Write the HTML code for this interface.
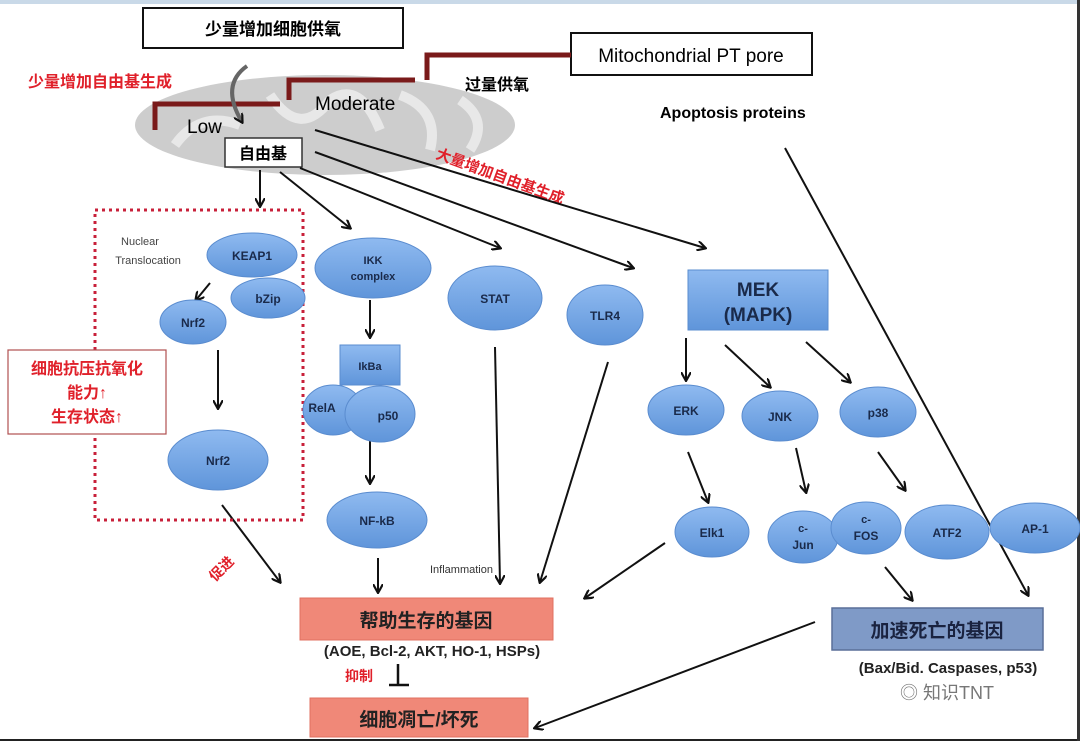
<!DOCTYPE html>
<html><head><meta charset="utf-8"><style>
html,body{margin:0;padding:0;background:#fff;}
svg{display:block;font-family:"Liberation Sans","Noto Sans CJK SC",sans-serif;}
</style></head><body>
<svg width="1080" height="741" viewBox="0 0 1080 741" xmlns="http://www.w3.org/2000/svg">
<defs>
<marker id="ah" markerWidth="10" markerHeight="10" refX="8" refY="5" orient="auto" markerUnits="userSpaceOnUse"><path d="M0,0 L9,5 L0,10" fill="none" stroke="#111" stroke-width="2.2"/></marker>
<linearGradient id="bl" x1="0" y1="0" x2="0" y2="1"><stop offset="0" stop-color="#8fbaf0"/><stop offset="1" stop-color="#5f95da"/></linearGradient>
</defs>
<rect x="0" y="0" width="1080" height="741" fill="#fff"/>
<rect x="0" y="0" width="1080" height="4" fill="#c9d9e8"/>
<rect x="0" y="739" width="1080" height="2" fill="#222"/>
<rect x="1077" y="0" width="3" height="741" fill="#333"/>
<!-- mitochondrion -->
<ellipse cx="325" cy="125" rx="190" ry="50" fill="#cdcdcd"/>
<path d="M175,145 Q200,110 240,125 M270,95 Q300,140 330,100 Q360,80 380,130 M400,95 Q440,110 430,150 M460,100 Q490,120 470,150" fill="none" stroke="#e8e8e8" stroke-width="10"/>
<!-- top boxes -->
<rect x="143" y="8" width="260" height="40" fill="#fff" stroke="#111" stroke-width="2"/>
<text x="273" y="35" text-anchor="middle" font-size="17" font-weight="bold">少量增加细胞供氧</text>
<rect x="571" y="33" width="241" height="42" fill="#fff" stroke="#111" stroke-width="2"/>
<text x="691" y="62" text-anchor="middle" font-size="19">Mitochondrial PT pore</text>
<text x="28" y="87" font-size="16" font-weight="bold" fill="#e0202a">少量增加自由基生成</text>
<path d="M155,130 V104 H280 M289,100 V80 H415 M427,80 V55 H571" fill="none" stroke="#7a1a1a" stroke-width="5"/>
<path d="M247,66 Q220,85 242,122" fill="none" stroke="#666" stroke-width="4" marker-end="url(#ah)"/>
<text x="187" y="133" font-size="19">Low</text>
<text x="315" y="110" font-size="19">Moderate</text>
<text x="465" y="90" font-size="16" font-weight="bold">过量供氧</text>
<rect x="225" y="138" width="77" height="29" fill="#fff" stroke="#333" stroke-width="1.5"/>
<text x="263" y="159" text-anchor="middle" font-size="16" font-weight="bold">自由基</text>
<text x="660" y="118" font-size="16" font-weight="bold">Apoptosis proteins</text>
<text x="435" y="158" font-size="15" font-weight="bold" fill="#e0202a" transform="rotate(20 435 158)">大量增加自由基生成</text>
<!-- arrows from 自由基 -->
<g stroke="#111" stroke-width="2" fill="none" marker-end="url(#ah)">
<line x1="260" y1="170" x2="260" y2="206"/>
<line x1="280" y1="172" x2="350" y2="228"/>
<line x1="300" y1="168" x2="500" y2="248"/>
<line x1="315" y1="152" x2="633" y2="268"/>
<line x1="315" y1="130" x2="705" y2="248"/>
<line x1="785" y1="148" x2="1028" y2="595"/>
<line x1="210" y1="283" x2="196" y2="300"/>
<line x1="218" y1="350" x2="218" y2="408"/>
<line x1="370" y1="300" x2="370" y2="337"/>
<line x1="370" y1="440" x2="370" y2="483"/>
<line x1="686" y1="338" x2="686" y2="380"/>
<line x1="725" y1="345" x2="770" y2="387"/>
<line x1="806" y1="342" x2="850" y2="382"/>
<line x1="688" y1="452" x2="708" y2="502"/>
<line x1="796" y1="448" x2="806" y2="492"/>
<line x1="878" y1="452" x2="905" y2="490"/>
<line x1="222" y1="505" x2="280" y2="582"/>
<line x1="378" y1="558" x2="378" y2="592"/>
<line x1="495" y1="347" x2="500" y2="583"/>
<line x1="608" y1="362" x2="540" y2="582"/>
<line x1="665" y1="543" x2="585" y2="598"/>
<line x1="885" y1="567" x2="912" y2="600"/>
<line x1="815" y1="622" x2="535" y2="728"/>
</g>
<!-- dotted box -->
<rect x="95" y="210" width="208" height="310" fill="none" stroke="#c8203a" stroke-width="3" stroke-dasharray="3,4"/>
<text x="140" y="245" text-anchor="middle" font-size="11" fill="#444">Nuclear</text>
<text x="148" y="264" text-anchor="middle" font-size="11" fill="#444">Translocation</text>
<rect x="8" y="350" width="158" height="84" fill="#fff" stroke="#b05050" stroke-width="1.2"/>
<g font-size="16" font-weight="bold" fill="#e0202a" text-anchor="middle">
<text x="87" y="374">细胞抗压抗氧化</text><text x="87" y="398">能力↑</text><text x="87" y="422">生存状态↑</text></g>
<!-- ellipses -->
<g fill="url(#bl)" stroke="#5a8ccf" stroke-width="1">
<ellipse cx="252" cy="255" rx="45" ry="22"/>
<ellipse cx="268" cy="298" rx="37" ry="20"/>
<ellipse cx="193" cy="322" rx="33" ry="22"/>
<ellipse cx="218" cy="460" rx="50" ry="30"/>
<ellipse cx="373" cy="268" rx="58" ry="30"/>
<ellipse cx="333" cy="410" rx="30" ry="25"/>
<ellipse cx="380" cy="414" rx="35" ry="28"/>
<ellipse cx="377" cy="520" rx="50" ry="28"/>
<ellipse cx="495" cy="298" rx="47" ry="32"/>
<ellipse cx="605" cy="315" rx="38" ry="30"/>
<ellipse cx="686" cy="410" rx="38" ry="25"/>
<ellipse cx="780" cy="416" rx="38" ry="25"/>
<ellipse cx="878" cy="412" rx="38" ry="25"/>
<ellipse cx="712" cy="532" rx="37" ry="25"/>
<ellipse cx="803" cy="537" rx="35" ry="26"/>
<ellipse cx="866" cy="528" rx="35" ry="26"/>
<ellipse cx="947" cy="532" rx="42" ry="27"/>
<ellipse cx="1035" cy="528" rx="45" ry="25"/>
<rect x="340" y="345" width="60" height="40"/>
<rect x="688" y="270" width="140" height="60"/>
</g>
<g font-size="12" font-weight="bold" fill="#1a2a4a" text-anchor="middle">
<text x="252" y="260">KEAP1</text><text x="268" y="303">bZip</text><text x="193" y="327">Nrf2</text>
<text x="218" y="465">Nrf2</text>
<text x="373" y="264" font-size="11">IKK</text><text x="373" y="280" font-size="11">complex</text>
<text x="370" y="370" font-size="11">IkBa</text><text x="322" y="412">RelA</text><text x="388" y="420">p50</text>
<text x="377" y="525">NF-kB</text><text x="495" y="303">STAT</text><text x="605" y="320">TLR4</text>
<text x="686" y="415">ERK</text><text x="780" y="421">JNK</text><text x="878" y="417">p38</text>
<text x="712" y="537">Elk1</text><text x="803" y="532" font-size="11">c-</text><text x="803" y="549">Jun</text>
<text x="866" y="523" font-size="11">c-</text><text x="866" y="540">FOS</text>
<text x="947" y="537">ATF2</text><text x="1035" y="533">AP-1</text>
<text x="758" y="296" font-size="19">MEK</text><text x="758" y="321" font-size="19">(MAPK)</text>
</g>
<text x="430" y="573" font-size="11" fill="#333">Inflammation</text>
<text x="215" y="582" font-size="14" font-weight="bold" fill="#e0202a" transform="rotate(-45 215 582)">促进</text>
<!-- bottom boxes -->
<rect x="300" y="598" width="253" height="42" fill="#f08878" stroke="#e07060"/>
<text x="426" y="627" text-anchor="middle" font-size="19" font-weight="bold" fill="#222">帮助生存的基因</text>
<text x="432" y="656" text-anchor="middle" font-size="15" font-weight="bold" fill="#222">(AOE, Bcl-2, AKT, HO-1, HSPs)</text>
<text x="345" y="681" font-size="14" font-weight="bold" fill="#e0202a">抑制</text>
<path d="M398,664 V684 M389,685 H409" stroke="#111" stroke-width="2.5" fill="none"/>
<rect x="310" y="698" width="218" height="39" fill="#f08878" stroke="#e07060"/>
<text x="419" y="726" text-anchor="middle" font-size="19" font-weight="bold" fill="#222">细胞凋亡/坏死</text>
<rect x="832" y="608" width="211" height="42" fill="#7f9ac7" stroke="#5a6f99" stroke-width="1.5"/>
<text x="937" y="637" text-anchor="middle" font-size="19" font-weight="bold" fill="#1a2340">加速死亡的基因</text>
<text x="948" y="673" text-anchor="middle" font-size="15" font-weight="bold" fill="#222">(Bax/Bid. Caspases, p53)</text>
<text x="900" y="699" font-size="18" fill="#777">◎ 知识TNT</text>
</svg>
</body></html>
